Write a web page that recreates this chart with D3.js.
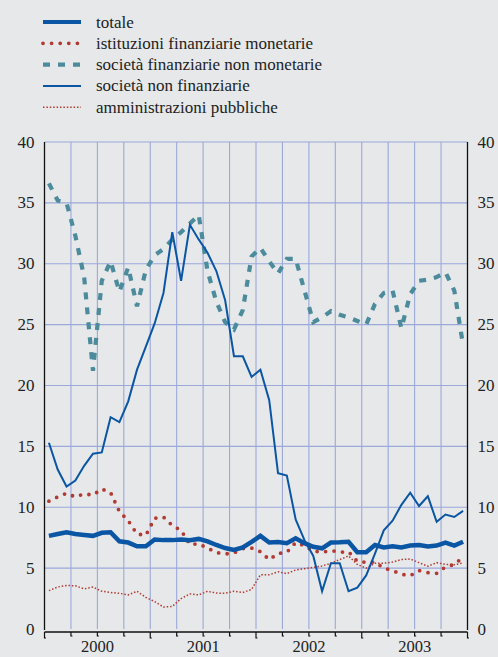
<!DOCTYPE html>
<html>
<head>
<meta charset="utf-8">
<script src="https://cdn.jsdelivr.net/npm/d3@7"></script>
<style>
  body { margin: 0; background: #e6e8ea; }
  svg, svg text { font-family: "Liberation Serif", "DejaVu Serif", "Noto Serif", "FreeSerif", Tinos, "Times New Roman", Times, serif; }
</style>
</head>
<body>
<script>
// monthly data, Jan 2000 - Dec 2003
var years = ["2000", "2001", "2002", "2003"];
var yTicks = [0, 5, 10, 15, 20, 25, 30, 35, 40];

var totale = [7.65, 7.8, 7.95, 7.8, 7.72, 7.65, 7.9, 7.95, 7.2, 7.1, 6.8, 6.8,
  7.35, 7.3, 7.3, 7.35, 7.3, 7.4, 7.2, 6.9, 6.65, 6.5, 6.7, 7.15,
  7.65, 7.1, 7.15, 7.05, 7.45, 7.05, 6.75, 6.63, 7.1, 7.12, 7.17, 6.3,
  6.3, 6.9, 6.7, 6.8, 6.7, 6.85, 6.9, 6.77, 6.85, 7.1, 6.85, 7.17];

var istMonetarie = [10.5, 10.85, 11.15, 10.85, 11.1, 11.0, 11.5, 11.2, 9.65, 8.9, 7.8, 7.7,
  9.1, 9.2, 8.5, 8.1, 6.95, 7.0, 6.65, 6.28, 6.16, 6.25, 6.6, 6.65,
  6.35, 5.7, 6.2, 6.3, 7.1, 6.85, 6.4, 6.3, 6.45, 6.3, 6.35, 5.55,
  5.48, 5.5, 5.0, 4.8, 4.5, 4.38, 4.8, 4.63, 4.57, 5.1, 5.3, 5.9];

var socFinNonMon = [36.6, 35.2, 35.0, 32.3, 28.9, 21.2, 28.6, 30.2, 27.7, 29.7, 26.5, 29.5,
  30.7, 31.2, 32.0, 32.6, 33.3, 34.0, 29.4, 26.9, 25.2, 24.6, 26.2, 30.6,
  31.3, 30.2, 29.2, 30.4, 30.4, 27.8, 25.2, 25.6, 26.1, 25.8, 25.6, 25.3,
  25.0, 26.7, 27.6, 27.8, 24.7, 27.5, 28.6, 28.7, 28.9, 29.3, 27.8, 23.3];

var socNonFin = [15.3, 13.1, 11.7, 12.2, 13.4, 14.4, 14.5, 17.4, 17.0, 18.7, 21.3, 23.2,
  25.1, 27.6, 32.6, 28.6, 33.2, 32.0, 30.9, 29.4, 27.0, 22.4, 22.4, 20.7,
  21.3, 18.8, 12.8, 12.6, 9.0, 7.3, 6.0, 3.1, 5.4, 5.4, 3.1, 3.4,
  4.4, 6.2, 8.1, 8.9, 10.2, 11.2, 10.1, 10.9, 8.8, 9.4, 9.2, 9.7];

var ammPubbliche = [3.15, 3.45, 3.58, 3.55, 3.3, 3.45, 3.1, 3.0, 2.93, 2.8, 3.1, 2.6,
  2.25, 1.8, 1.85, 2.5, 2.88, 2.8, 3.1, 2.95, 2.93, 3.1, 3.0, 3.25,
  4.45, 4.45, 4.7, 4.55, 4.85, 4.95, 5.07, 5.18, 5.4, 5.7, 6.0, 5.3,
  5.0, 5.4, 5.4, 5.5, 5.7, 5.75, 5.45, 5.15, 5.45, 5.3, 5.28, 5.42];

var blue = "#0a56a4", red = "#b23a31", teal = "#4b8b9b", grid = "#9ba8da";

var series = [
  {name: "amministrazioni pubbliche", values: ammPubbliche, color: red, width: 1.5, dash: "1.5,1.9", cap: "butt"},
  {name: "istituzioni finanziarie monetarie", values: istMonetarie, color: red, width: 3.8, dash: "0,8.6", cap: "round"},
  {name: "società finanziarie non monetarie", values: socFinNonMon, color: teal, width: 4.2, dash: "7,8", cap: "butt"},
  {name: "società non finanziarie", values: socNonFin, color: blue, width: 2, dash: null, cap: "butt"},
  {name: "totale", values: totale, color: blue, width: 4.5, dash: null, cap: "butt"}
];
var legendOrder = ["totale", "istituzioni finanziarie monetarie", "società finanziarie non monetarie",
  "società non finanziarie", "amministrazioni pubbliche"];

var W = 498, H = 657;
var plotLeft = 44.5, plotRight = 467.5, plotTop = 142, plotBottom = 629;

var svg = d3.select("body").append("svg").attr("width", W).attr("height", H);
svg.append("rect").attr("width", W).attr("height", H).attr("fill", "#e6e8ea");

var x = d3.scaleLinear().domain([0, 48]).range([plotLeft, plotRight]);
var y = d3.scaleLinear().domain([0, 40]).range([plotBottom, plotTop]);

// gridlines
var quarters = d3.range(3, 48, 3);
svg.append("g").selectAll("line").data(quarters).enter().append("line")
  .attr("x1", d => x(d)).attr("x2", d => x(d)).attr("y1", plotTop).attr("y2", plotBottom)
  .attr("stroke", grid).attr("stroke-width", 1.1);
svg.append("g").selectAll("line").data(yTicks.slice(1)).enter().append("line")
  .attr("x1", plotLeft).attr("x2", plotRight).attr("y1", d => y(d)).attr("y2", d => y(d))
  .attr("stroke", grid).attr("stroke-width", 1.1);

// lines
var line = d3.line().x((d, i) => x(i + 0.5)).y(d => y(d));
series.forEach(function(s) {
  svg.append("path").datum(s.values).attr("d", line)
    .attr("fill", "none").attr("stroke", s.color).attr("stroke-width", s.width)
    .attr("stroke-dasharray", s.dash).attr("stroke-linecap", s.cap)
    .attr("stroke-linejoin", "miter");
});

// y axes
var leftAxis = d3.axisLeft(y).tickValues(yTicks).tickSize(0).tickPadding(10);
var rightAxis = d3.axisRight(y).tickValues(yTicks).tickSize(0).tickPadding(10);
[[leftAxis, plotLeft], [rightAxis, plotRight]].forEach(function(a) {
  var g = svg.append("g").attr("transform", `translate(${a[1]},0)`).call(a[0]);
  g.attr("font-family", null).attr("font-size", 17);
  g.select(".domain").attr("stroke", "#111").attr("stroke-width", 1.3).attr("d", `M0,${plotTop}V${plotBottom + 1}`);
  g.selectAll("text").attr("fill", "#222").attr("dy", "0.3em");
});

// x axis
var axisY = 632;
var xg = svg.append("g");
xg.append("line").attr("x1", plotLeft).attr("x2", plotRight).attr("y1", axisY).attr("y2", axisY)
  .attr("stroke", "#111").attr("stroke-width", 1.3);
xg.selectAll(".tk").data(d3.range(0, 49, 3)).enter().append("path")
  .attr("d", d => `M${x(d)},${axisY}v${d % 12 == 0 ? 6 : 4}h1.5`)
  .attr("fill", "none").attr("stroke", "#111").attr("stroke-width", 1.2);
xg.selectAll("text").data(years).enter().append("text")
  .attr("x", (d, i) => x(i * 12 + 6)).attr("y", 652)
  .attr("text-anchor", "middle").attr("font-size", 16.5).attr("fill", "#222")
  .text(d => d);

// legend
var lg = svg.append("g");
legendOrder.forEach(function(name, i) {
  var s = series.find(d => d.name == name);
  var ly = 22 + i * 21.3;
  lg.append("line").attr("x1", 43).attr("x2", 81).attr("y1", ly).attr("y2", ly)
    .attr("stroke", s.color).attr("stroke-width", s.width == 4.5 ? 4 : s.width)
    .attr("stroke-dasharray", s.dash).attr("stroke-linecap", s.cap);
  lg.append("text").attr("x", 96).attr("y", ly + 5.5).attr("font-size", 17)
    .attr("fill", "#222").text(name);
});
</script>
</body>
</html>
